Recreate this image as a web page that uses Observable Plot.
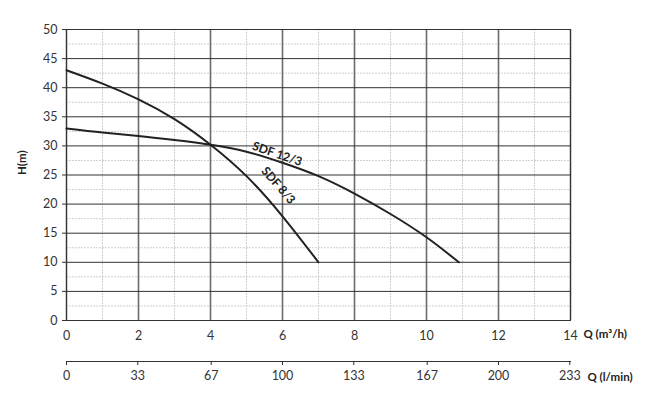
<!DOCTYPE html>
<html><head><meta charset="utf-8">
<script src="https://cdn.jsdelivr.net/npm/d3@7"></script>
<script src="https://cdn.jsdelivr.net/npm/@observablehq/plot@0.6"></script>
<style>body{margin:0;background:#fff;} #chart svg{display:block;}</style>
</head><body><div id="chart"></div>
<script>
// Data
const sdf8Q = [0, 1, 2, 3, 4, 5, 6, 7];
const sdf8H = [43, 40.7, 38.0, 34.6, 30.2, 24.8, 17.9, 10];
const sdf12Q = [0, 1, 2, 3, 4, 5, 6, 7, 8, 9, 10, 10.9];
const sdf12H = [33, 32.3, 31.7, 31.0, 30.2, 29.0, 27.1, 24.8, 21.8, 18.3, 14.3, 10];
const curveNames = ["SDF 12/3", "SDF 8/3"];
const labelQ = [5.85, 5.88];
const labelH = [28.6, 23.2];
const labelAngle = [19, 49];
const xTicks = [0, 2, 4, 6, 8, 10, 12, 14];
const xMinor = [1, 3, 5, 7, 9, 11, 13];
const yTicks = [0, 5, 10, 15, 20, 25, 30, 35, 40, 45, 50];
const yMinor = [2.5, 7.5, 12.5, 17.5, 22.5, 27.5, 32.5, 37.5, 42.5, 47.5];
const lminTicks = [0, 33, 67, 100, 133, 167, 200, 233];

const sdf8 = sdf8Q.map((q, i) => ({q, h: sdf8H[i]}));
const sdf12 = sdf12Q.map((q, i) => ({q, h: sdf12H[i]}));
const labels = curveNames.map((name, i) => ({name, q: labelQ[i], h: labelH[i], a: labelAngle[i]}));

const font = "Lato, 'Open Sans', sans-serif";

const main = Plot.plot({
  width: 659, height: 345,
  marginLeft: 66, marginRight: 89, marginTop: 29, marginBottom: 25,
  style: {fontFamily: font, fontSize: "12.5px", color: "#333", background: "#fff"},
  x: {domain: [0, 14]},
  y: {domain: [0, 50]},
  marks: [
    Plot.gridX(xMinor, {stroke: "#cfcfcf", strokeOpacity: 1, strokeDasharray: "2,1"}),
    Plot.gridY(yMinor, {stroke: "#cfcfcf", strokeOpacity: 1, strokeDasharray: "2,1"}),
    Plot.gridX(xTicks, {stroke: "#6a6a6a", strokeOpacity: 1, strokeWidth: 1.6}),
    Plot.gridY(yTicks, {stroke: "#333", strokeOpacity: 1}),
    Plot.frame({stroke: "#333"}),
    Plot.axisY(yTicks, {tickSize: 4, tickPadding: 5, label: null, stroke: "#333"}),
    Plot.axisX(xTicks, {tickSize: 0, tickPadding: 11, label: null}),
    Plot.line(sdf8, {x: "q", y: "h", curve: "natural", stroke: "#222", strokeWidth: 2}),
    Plot.line(sdf12, {x: "q", y: "h", curve: "natural", stroke: "#222", strokeWidth: 2}),
    Plot.text(labels, {x: "q", y: "h", text: "name", rotate: "a", fontWeight: "bold", fontSize: 12, fill: "#222"}),
    Plot.text(["H(m)"], {frameAnchor: "left", dx: -44, rotate: -90, fontWeight: "bold", fontSize: 11.5, fill: "#222"}),
    Plot.text(["Q (m³/h)"], {frameAnchor: "bottom-right", dx: 13, dy: 17, textAnchor: "start", fontWeight: "bold", fontSize: 11.5, fill: "#222"})
  ]
});

const second = Plot.plot({
  width: 659, height: 52,
  marginLeft: 66, marginRight: 89, marginTop: 0, marginBottom: 36,
  style: {fontFamily: font, fontSize: "12.5px", color: "#333", background: "#fff"},
  x: {domain: [0, 700 / 3]},
  marks: [
    Plot.frame({anchor: "bottom", stroke: "#333"}),
    Plot.axisX(lminTicks, {anchor: "bottom", tickSize: 4, tickPadding: 6, label: null, tickFormat: d => String(d)}),
    Plot.text(["Q (l/min)"], {frameAnchor: "bottom-right", dx: 17, dy: 19, textAnchor: "start", fontWeight: "bold", fontSize: 11.5, fill: "#222"})
  ]
});

document.getElementById("chart").append(main, second);
</script>
</body></html>
